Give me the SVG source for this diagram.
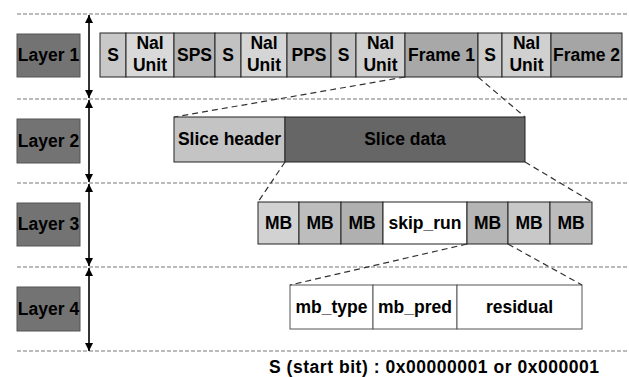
<svg xmlns="http://www.w3.org/2000/svg" width="629" height="377" viewBox="0 0 629 377">
<defs>
<style>
text{font-family:"Liberation Sans",Arial,sans-serif;font-weight:bold;font-size:17.5px;fill:#000;text-anchor:middle}
.sep{stroke:#777;stroke-width:1;stroke-dasharray:4 2;fill:none}
.cell{stroke:#222;stroke-width:1}
.lab{fill:#737373;stroke:#555;stroke-width:1}
.conn{stroke:#333;stroke-width:1.2;stroke-dasharray:6 4;fill:none}
.arr{stroke:#000;stroke-width:1.6;fill:none;marker-start:url(#ah);marker-end:url(#ah)}
.l4{fill:#fff;stroke:#555;stroke-width:1}
</style>
<marker id="ah" viewBox="0 0 10 10" refX="10" refY="5" markerWidth="8" markerHeight="9" markerUnits="userSpaceOnUse" orient="auto-start-reverse">
<path d="M0,0 L10,5 L0,10 z" fill="#000"/>
</marker>
</defs>
<rect width="629" height="377" fill="#fff"/>
<g id="separators">
<line class="sep" x1="17" y1="14" x2="629" y2="14"/>
<line class="sep" x1="17" y1="99" x2="629" y2="99"/>
<line class="sep" x1="17" y1="183" x2="629" y2="183"/>
<line class="sep" x1="17" y1="267" x2="629" y2="267"/>
<line class="sep" x1="17" y1="351" x2="629" y2="351"/>
</g>
<g id="arrows">
<line class="arr" x1="89" y1="15" x2="89" y2="98"/>
<line class="arr" x1="89" y1="100" x2="89" y2="182"/>
<line class="arr" x1="89" y1="184" x2="89" y2="266"/>
<line class="arr" x1="89" y1="268" x2="89" y2="351"/>
</g>
<g id="layer1-label"><rect class="lab" x="17" y="34" width="63" height="43"/><text x="48.5" y="61">Layer 1</text></g>
<g id="layer2-label"><rect class="lab" x="17" y="119" width="63" height="44"/><text x="48.5" y="147">Layer 2</text></g>
<g id="layer3-label"><rect class="lab" x="17" y="203" width="63" height="43"/><text x="48.5" y="230">Layer 3</text></g>
<g id="layer4-label"><rect class="lab" x="17" y="287" width="63" height="44"/><text x="48.5" y="315">Layer 4</text></g>
<g id="layer1-row">
<rect class="cell" x="100" y="33" width="26" height="44" fill="#c8c8c8"/><text x="113" y="61">S</text>
<rect class="cell" x="126" y="33" width="48" height="44" fill="#d9d9d9"/><text x="150" y="49">Nal</text><text x="150" y="71">Unit</text>
<rect class="cell" x="174" y="33" width="41" height="44" fill="#b5b5b5"/><text x="194.5" y="61">SPS</text>
<rect class="cell" x="215" y="33" width="26" height="44" fill="#c2c2c2"/><text x="228" y="61">S</text>
<rect class="cell" x="241" y="33" width="46" height="44" fill="#d5d5d5"/><text x="264" y="49">Nal</text><text x="264" y="71">Unit</text>
<rect class="cell" x="287" y="33" width="44" height="44" fill="#b5b5b5"/><text x="309" y="61">PPS</text>
<rect class="cell" x="331" y="33" width="25" height="44" fill="#c2c2c2"/><text x="343.5" y="61">S</text>
<rect class="cell" x="356" y="33" width="49" height="44" fill="#d0d0d0"/><text x="380.5" y="49">Nal</text><text x="380.5" y="71">Unit</text>
<rect class="cell" x="405" y="33" width="73" height="44" fill="#a8a8a8"/><text x="441.5" y="61">Frame 1</text>
<rect class="cell" x="478" y="33" width="24" height="44" fill="#cccccc"/><text x="490" y="61">S</text>
<rect class="cell" x="502" y="33" width="49" height="44" fill="#d0d0d0"/><text x="526.5" y="49">Nal</text><text x="526.5" y="71">Unit</text>
<rect class="cell" x="551" y="33" width="71" height="44" fill="#a5a5a5"/><text x="586.5" y="61">Frame 2</text>
</g>
<g id="layer2-row">
<rect class="cell" x="174" y="117" width="111" height="45" fill="#c4c4c4"/><text x="229.5" y="145">Slice header</text>
<rect class="cell" x="285" y="117" width="240" height="45" fill="#666666"/><text x="405" y="145">Slice data</text>
</g>
<g id="layer3-row">
<rect class="cell" x="258" y="202" width="41" height="42" fill="#d2d2d2"/><text x="278.5" y="229">MB</text>
<rect class="cell" x="299" y="202" width="42" height="42" fill="#bdbdbd"/><text x="320" y="229">MB</text>
<rect class="cell" x="341" y="202" width="42" height="42" fill="#b0b0b0"/><text x="362" y="229">MB</text>
<rect class="cell" x="383" y="202" width="84" height="42" fill="#ffffff"/><text x="425" y="229">skip_run</text>
<rect class="cell" x="467" y="202" width="41" height="42" fill="#b5b5b5"/><text x="487.5" y="229">MB</text>
<rect class="cell" x="508" y="202" width="42" height="42" fill="#c8c8c8"/><text x="529" y="229">MB</text>
<rect class="cell" x="550" y="202" width="42" height="42" fill="#bcbcbc"/><text x="571" y="229">MB</text>
</g>
<g id="layer4-row">
<rect class="l4" x="290" y="285" width="83" height="44"/><text x="331.5" y="313">mb_type</text>
<rect class="l4" x="373" y="285" width="84" height="44"/><text x="415" y="313">mb_pred</text>
<rect class="l4" x="457" y="285" width="125" height="44"/><text x="519.5" y="313">residual</text>
</g>
<g id="connectors">
<line class="conn" x1="405" y1="77" x2="174" y2="117"/>
<line class="conn" x1="478" y1="77" x2="525" y2="117"/>
<line class="conn" x1="285" y1="162" x2="258" y2="202"/>
<line class="conn" x1="525" y1="162" x2="592" y2="202"/>
<line class="conn" x1="467" y1="244" x2="290" y2="285"/>
<line class="conn" x1="508" y1="244" x2="582" y2="285"/>
</g>
<g id="note"><text x="434" y="373" textLength="330" lengthAdjust="spacing">S (start bit) : 0x00000001 or 0x000001</text></g>
</svg>
